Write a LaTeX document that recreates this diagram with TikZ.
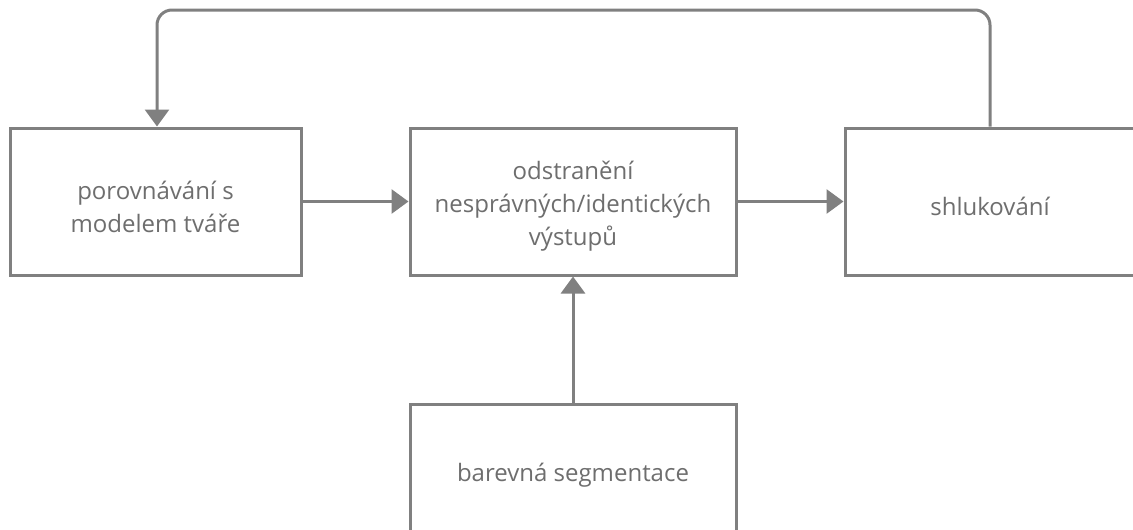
\documentclass[tikz,border=0pt]{standalone}
\usepackage{fontspec}
\setmainfont{Open Sans}
\usetikzlibrary{arrows.meta}
\definecolor{linegray}{HTML}{808080}
\definecolor{textgray}{HTML}{6E6E6E}
\tikzset{
  box/.style={draw=linegray, line width=3pt, fill=white, rectangle, inner sep=0pt},
  boxtext/.style={align=center, text=textgray, font=\fontsize{24}{33}\selectfont,
    inner sep=0pt, yshift=-5pt},
  conn/.style={draw=linegray, line width=3pt, -{Triangle[width=24pt,length=17pt]}}
}
\begin{document}
\begin{tikzpicture}[x=1pt,y=-1pt]
\useasboundingbox (0,0) rectangle (1133,530);
\clip (0,0) rectangle (1133,530);
\node[box, minimum width=291pt, minimum height=147pt,
  label={[boxtext]center:{porovnávání s\\modelem tváře}}] (cmp) at (155.5,201.5) {};
\node[box, minimum width=326pt, minimum height=147pt,
  label={[boxtext]center:{odstranění\\nesprávných/identických\\výstupů}}] (rem) at (573,201.5) {};
\node[box, minimum width=290pt, minimum height=147pt,
  label={[boxtext]center:{shlukování}}] (clu) at (990,201.5) {};
\node[box, minimum width=326pt, minimum height=134pt,
  label={[boxtext, yshift=1pt]center:{barevná segmentace}}] (seg) at (573,471) {};
\coordinate (c1) at (990,10);
\coordinate (c2) at (157,10);
\draw[conn] (cmp.east) -- (rem.west);
\draw[conn] (rem.east) -- (clu.west);
\draw[conn] (seg.north) -- (rem.south);
\draw[conn, rounded corners=15pt] (clu.north) -- (c1) -- (c2) -- (cmp.north -| c2);
\end{tikzpicture}
\end{document}
